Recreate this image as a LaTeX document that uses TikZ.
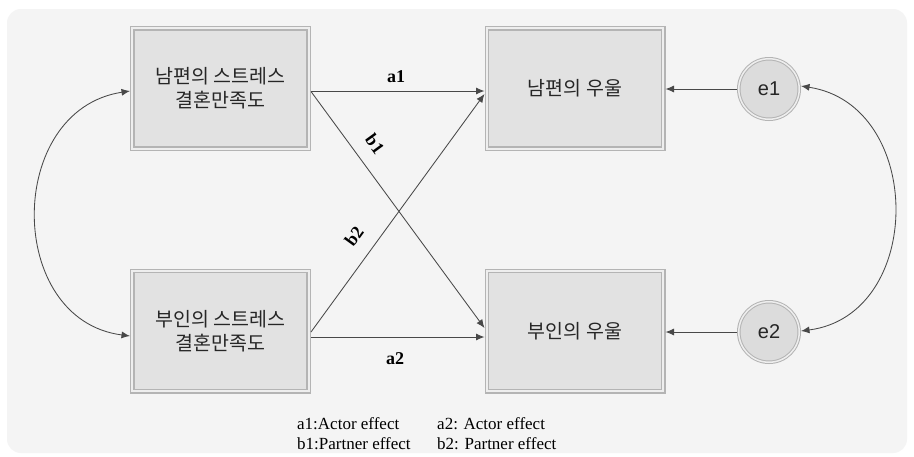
\documentclass[tikz,border=0pt]{standalone}
\usepackage{fontspec}
\setmainfont{Liberation Serif}
\newfontfamily\kr{Noto Sans CJK KR}
\newfontfamily\lsans{Liberation Sans}
\usetikzlibrary{arrows.meta}
\definecolor{bgc}{HTML}{F4F4F4}
\definecolor{boxfill}{HTML}{E2E2E2}
\definecolor{boxline}{HTML}{B4B4B4}
\definecolor{boxin}{HTML}{EEEEEE}
\definecolor{circfill}{HTML}{DCDCDC}
\definecolor{linec}{HTML}{484848}
\begin{document}
\begin{tikzpicture}[x=1pt,y=-1pt,
  varbox/.style={draw=boxline, line width=1.2pt, double=boxin, double distance=2.2pt,
    fill=boxfill, minimum width=176.4pt, minimum height=120.4pt, outer sep=2.3pt,
    inner sep=0pt, align=center, font=\kr\fontsize{19.5}{24}\selectfont, text=black!85},
  errc/.style={circle, draw=boxline, line width=1pt, double=boxin, double distance=1.5pt,
    fill=circfill, minimum size=60.5pt, outer sep=1.75pt, inner sep=0pt,
    font=\lsans\fontsize{20}{22}\selectfont, text=black!85},
  conn/.style={draw=linec, line width=0.85pt, -{Latex[length=8.5pt,width=7pt]}},
  biconn/.style={draw=linec, line width=0.85pt, {Latex[length=8.5pt,width=7pt]}-{Latex[length=8.5pt,width=7pt]}},
  lbl/.style={font=\bfseries\fontsize{18}{20}\selectfont, inner sep=0pt},
  leg/.style={font=\fontsize{17}{20}\selectfont, inner sep=0pt, anchor=base west}]
\fill[white] (0,0) rectangle (914,456);
\useasboundingbox (0,0) rectangle (914,456);
\fill[bgc, rounded corners=14pt] (7,9) rectangle (907,453);

\node[varbox] (hs) at (220.5,88.5) {남편의 스트레스\\결혼만족도};
\node[varbox] (ws) at (220.5,331) {부인의 스트레스\\결혼만족도};
\node[varbox] (hd) at (575,88.5) {남편의 우울};
\node[varbox] (wd) at (575,331) {부인의 우울};
\node[errc] (e1) at (769,89) {e1};
\node[errc] (e2) at (769,332) {e2};

\draw[conn] ([yshift=-2.5pt]hs.east) -- ([yshift=-2.5pt]hd.west);
\draw[conn] ([yshift=-3pt]hs.east) -- ([yshift=3pt]wd.west);
\draw[conn] ([yshift=-1pt]ws.east) -- ([yshift=-5.5pt]hd.west);
\draw[conn] ([yshift=-6pt]ws.east) -- ([yshift=-6pt]wd.west);
\draw[conn] (e1) -- (e1 -| hd.east);
\draw[conn] (e2) -- (e2 -| wd.east);

\draw[biconn] ([yshift=-2.5pt]hs.west) .. controls (5,110) and (5,320) .. ([yshift=-5pt]ws.west);
\draw[biconn] ([yshift=3pt]e1.east) .. controls (925,105) and (925,315) .. ([yshift=1pt]e2.east);

\node[lbl] (la1) at (396,77) {a1};
\node[lbl] (la2) at (395,359) {a2};
\node[lbl, rotate=-54] (lb1) at (375,144) {b1};
\node[lbl, rotate=54] (lb2) at (354,236) {b2};

\node[leg] (l1) at (297,429) {a1:Actor effect};
\node[leg] (l2) at (297,449) {b1:Partner effect};
\node[leg] (l3) at (437,429) {a2: Actor effect};
\node[leg] (l4) at (437,449) {b2: Partner effect};
\end{tikzpicture}
\end{document}
